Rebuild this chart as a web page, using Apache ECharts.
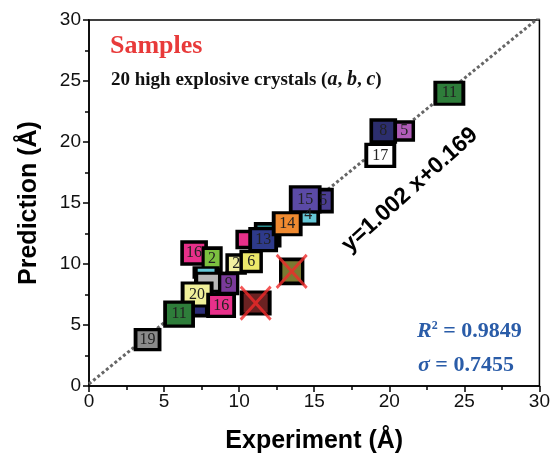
<!DOCTYPE html>
<html>
<head>
<meta charset="utf-8">
<script src="https://cdn.jsdelivr.net/npm/echarts@6/dist/echarts.min.js"></script>
<style>
  html, body { margin: 0; padding: 0; background: #fff; }
  #chart { width: 553px; height: 461px; }
</style>
</head>
<body>
<div id="chart"></div>
<script>
// Lattice constants of 20 high-explosive crystals: experiment vs. prediction (Å)
const sampleIds = ['', '', '4', '5', '', '13', '14', '15', '', '2', '6', '16', '2', '', '', '9', '', '20', '16', '11', '19', '17', '8', '5', '11', '', ''];
const experiment = [11.9, 10.4, 14.6, 15.6, 8.0, 11.6, 13.2, 14.4, 6.9, 9.8, 10.8, 7.0, 8.2, 7.8, 8.0, 9.3, 7.3, 7.2, 8.8, 6.0, 3.9, 19.4, 19.6, 21.0, 24.0, 11.1, 13.5];
const prediction = [12.4, 12.0, 14.0, 15.2, 8.0, 12.0, 13.3, 15.3, 6.8, 10.0, 10.2, 10.9, 10.4, 9.3, 8.5, 8.4, 6.5, 7.5, 6.6, 5.9, 3.8, 18.9, 20.9, 20.9, 24.0, 6.8, 9.4];
// Outliers marked with a red cross
const outlierX = [11.1, 13.5];
const outlierY = [6.8, 9.4];
// Linear fit y = slope * x + intercept
const fitSlope = 1.002;
const fitIntercept = 0.169;
const fitRange = [0, 30];
const rSquared = '0.9849';
const sigma = '0.7455';

// Per-sample fill colours and box sizes (drawing order: back to front)
const fills = ['#2a8a8c', '#e8308a', '#66c8d8', '#4a3d90', '#2c2e7a', '#2e3a8a', '#f08a30', '#5b4aa6', '#2c2e7a', '#f2f0a0', '#ece86a', '#e8308a', '#7cc040', '#66c8d8', '#b8b8b8', '#7a3a9a', '#2c2e7a', '#f0f09a', '#e8308a', '#2e7d3a', '#8a8a8a', '#ffffff', '#2c2e6e', '#b05cb8', '#2e7d3a', '#6a2222', '#7a7a32'];
const sizes = [[24, 22], [16, 16], [20, 18], [18, 22], [16, 18], [26, 22], [27, 22], [29, 25], [16, 18], [18, 18], [20, 20], [24, 22], [18, 22], [22, 10], [26, 18], [18, 20], [16, 18], [29, 23], [26, 22], [28, 24], [24, 20], [28, 22], [24, 22], [18, 18], [28, 22], [28, 22], [22, 24]];

const points = experiment.map((x, i) => ({
  value: [x, prediction[i]],
  symbolSize: sizes[i],
  itemStyle: { color: fills[i] },
  label: { formatter: sampleIds[i] }
}));

const fitLine = fitRange.map(x => [x, fitSlope * x + fitIntercept]);

const chart = echarts.init(document.getElementById('chart'));
chart.setOption({
  animation: false,
  grid: { left: 89, right: 10, top: 20, bottom: 75, show: true, borderColor: '#000', borderWidth: 1.5, backgroundColor: 'transparent' },
  xAxis: {
    type: 'value', min: 0, max: 30, interval: 5,
    name: 'Experiment (Å)', nameLocation: 'middle', nameGap: 43,
    nameTextStyle: { fontFamily: 'Liberation Sans, Arial', fontWeight: 'bold', fontSize: 25, color: '#000' },
    axisLine: { show: true, onZero: false, lineStyle: { color: '#000', width: 1.5 } },
    axisTick: { show: true, inside: false, length: 6, lineStyle: { color: '#000', width: 1.5 } },
    minorTick: { show: true, splitNumber: 2, length: 4, lineStyle: { color: '#000', width: 1.5 } },
    axisLabel: { fontFamily: 'Liberation Sans, Arial', fontSize: 19, color: '#111', margin: 6 },
    splitLine: { show: false }
  },
  yAxis: {
    type: 'value', min: 0, max: 30, interval: 5,
    name: 'Prediction (Å)', nameLocation: 'middle', nameGap: 47,
    nameTextStyle: { fontFamily: 'Liberation Sans, Arial', fontWeight: 'bold', fontSize: 25, color: '#000' },
    axisLine: { show: true, onZero: false, lineStyle: { color: '#000', width: 1.5 } },
    axisTick: { show: true, inside: false, length: 6, lineStyle: { color: '#000', width: 1.5 } },
    minorTick: { show: true, splitNumber: 2, length: 4, lineStyle: { color: '#000', width: 1.5 } },
    axisLabel: { fontFamily: 'Liberation Sans, Arial', fontSize: 19, color: '#111', margin: 8 },
    splitLine: { show: false }
  },
  series: [
    {
      type: 'line', data: fitLine, symbol: 'none', silent: true, clip: true, z: 1,
      lineStyle: { color: '#666', width: 3, type: [3, 2.5] }
    },
    {
      type: 'scatter', symbol: 'rect', data: points, z: 2,
      itemStyle: { borderColor: '#000', borderWidth: 3.5, opacity: 1 },
      label: {
        show: true, position: 'inside', color: '#222',
        fontFamily: 'Liberation Serif, Times New Roman', fontSize: 16
      }
    },
    {
      type: 'scatter', z: 3,
      symbol: 'path://M0,0L10,11M10,0L0,11',
      symbolSize: [30, 33],
      data: outlierX.map((x, i) => [x, outlierY[i]]),
      itemStyle: { color: 'none', borderColor: '#f02a2a', borderWidth: 3 }
    }
  ],
  graphic: [
    {
      type: 'text', left: 110, top: 33,
      style: { text: 'Samples', fill: '#e83a3a', font: 'bold 26px "Liberation Serif", "Times New Roman", serif' }
    },
    {
      type: 'text', left: 111, top: 70,
      style: {
        text: '20 high explosive crystals ({i|a}, {i|b}, {i|c})',
        fill: '#111', font: 'bold 19px "Liberation Serif", serif',
        rich: { i: { fontStyle: 'italic', fontWeight: 'bold', fontSize: 20, fontFamily: 'Liberation Serif' } }
      }
    },
    {
      type: 'text', x: 410, y: 190, rotation: 42 * Math.PI / 180,
      style: {
        text: 'y=1.002 x+0.169', fill: '#000', align: 'center', verticalAlign: 'middle',
        font: 'bold 23px "Liberation Sans", Arial, sans-serif'
      }
    },
    {
      type: 'text', left: 417, top: 320,
      style: {
        text: '{i|R}{s|2} = ' + rSquared,
        fill: '#2a5ca8', font: 'bold 22px "Liberation Serif", serif',
        rich: {
          i: { fontStyle: 'italic', fontWeight: 'bold', fontSize: 22, fontFamily: 'Liberation Serif', fill: '#2a5ca8' },
          s: { fontSize: 12, fontWeight: 'bold', fontFamily: 'Liberation Serif', verticalAlign: 'top', fill: '#2a5ca8', padding: [0, 0, 9, 0] }
        }
      }
    },
    {
      type: 'text', left: 418, top: 354,
      style: {
        text: '{i|σ} = ' + sigma,
        fill: '#2a5ca8', font: 'bold 22px "Liberation Serif", serif',
        rich: { i: { fontStyle: 'italic', fontWeight: 'bold', fontSize: 22, fontFamily: 'Liberation Serif', fill: '#2a5ca8' } }
      }
    }
  ]
});
</script>
</body>
</html>
